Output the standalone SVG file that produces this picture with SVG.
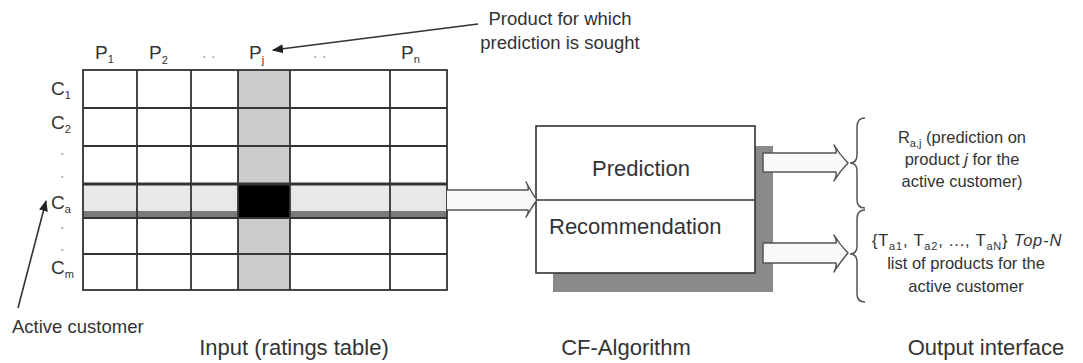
<svg xmlns="http://www.w3.org/2000/svg" width="1083" height="363" viewBox="0 0 1083 363">
  <defs>
    <style>
      text { font-family: "Liberation Sans", Arial, sans-serif; fill: #333; }
      .hdr { font-size: 19px; }
      .sub { font-size: 11px; }
      .dots { font-size: 16px; fill: #999; }
      .note { font-size: 18.5px; }
      .out { font-size: 16.5px; text-anchor: middle; }
      .box-label { font-size: 22px; }
      .caption { font-size: 22px; text-anchor: middle; }
      .grid { stroke: #333; stroke-width: 1.8; fill: none; }
      .block-arrow { stroke: #555; stroke-width: 1.5; fill: #fafafa; stroke-linejoin: round; }
      .brace { stroke: #555; stroke-width: 1.5; fill: none; }
      .pointer { stroke: #333; stroke-width: 1.6; fill: none; }
    </style>
    <marker id="tip" viewBox="0 0 10 10" refX="9" refY="5" markerWidth="7" markerHeight="7" orient="auto">
      <path d="M0,1 L10,5 L0,9 z" fill="#222"/>
    </marker>
  </defs>

  <rect width="1083" height="363" fill="#fff"/>

  <!-- ratings table -->
  <g id="ratings-table">
    <!-- highlighted product column and active-customer row -->
    <rect x="238" y="70" width="52" height="220" fill="#cbcbcb"/>
    <rect x="83" y="183" width="364" height="35" fill="#e8e8e8"/>
    <rect x="83" y="211" width="364" height="7" fill="#7a7a7a"/>
    <rect x="238" y="183" width="52" height="35" fill="#000"/>
    <!-- grid -->
    <rect class="grid" x="83" y="70" width="364" height="220"/>
    <path class="grid" d="M137,70 V290 M191,70 V290 M238,70 V290 M290,70 V290 M390,70 V290"/>
    <path class="grid" d="M83,108 H447 M83,146 H447 M83,254 H447"/>
    <path d="M83,184 H447" stroke="#333" stroke-width="3" fill="none"/>
    <path class="grid" d="M83,218 H447"/>

    <!-- column headers -->
    <text class="hdr" x="95" y="59">P<tspan class="sub" dy="4">1</tspan></text>
    <text class="hdr" x="149" y="59">P<tspan class="sub" dy="5">2</tspan></text>
    <text class="dots" x="202" y="58">. .</text>
    <text class="hdr" x="249" y="59">P<tspan class="sub" dy="5">j</tspan></text>
    <text class="dots" x="313" y="58">. .</text>
    <text class="hdr" x="401" y="59">P<tspan class="sub" dy="4">n</tspan></text>

    <!-- row headers -->
    <text class="hdr" x="51" y="95">C<tspan class="sub" dy="4">1</tspan></text>
    <text class="hdr" x="51" y="129">C<tspan class="sub" dy="4">2</tspan></text>
    <text class="dots" x="60" y="155">.</text>
    <text class="dots" x="60" y="178">.</text>
    <text class="hdr" x="51" y="209">C<tspan class="sub" dy="4">a</tspan></text>
    <text class="dots" x="60" y="229">.</text>
    <text class="dots" x="60" y="251">.</text>
    <text class="hdr" x="51" y="274">C<tspan class="sub" dy="4">m</tspan></text>

    <text class="caption" x="294" y="355">Input (ratings table)</text>
  </g>

  <!-- annotations -->
  <g id="active-customer-note">
    <text class="note" x="12" y="333">Active customer</text>
  </g>
  <g id="product-note">
    <text class="note" x="560" y="25" text-anchor="middle">Product for which</text>
    <text class="note" x="560" y="49" text-anchor="middle">prediction is sought</text>
  </g>

  <!-- CF algorithm block -->
  <g id="cf-algorithm">
    <rect x="553" y="146" width="220" height="146" fill="#8a8a8a"/>
    <rect x="536" y="126" width="219" height="147" fill="#fff" stroke="#333" stroke-width="1.6"/>
    <path d="M536,200 H755" stroke="#333" stroke-width="1.6"/>
    <text class="box-label" x="641" y="176" text-anchor="middle">Prediction</text>
    <text class="box-label" x="549" y="234">Recommendation</text>
    <text class="caption" x="626" y="355">CF-Algorithm</text>
  </g>

  <!-- output interface -->
  <g id="output-interface">
    <text class="out" x="962" y="143">R<tspan class="sub" dy="4">a,j</tspan><tspan dy="-4">  (prediction on</tspan></text>
    <text class="out" x="962" y="165">product <tspan font-style="italic">j</tspan> for the</text>
    <text class="out" x="962" y="187">active customer)</text>
    <text class="out" x="967" y="246" letter-spacing="0.8">{T<tspan class="sub" dy="4">a1</tspan><tspan dy="-4">, T</tspan><tspan class="sub" dy="4">a2</tspan><tspan dy="-4">, ..., T</tspan><tspan class="sub" dy="4">aN</tspan><tspan dy="-4">} </tspan><tspan font-style="italic">Top-N</tspan></text>
    <text class="out" x="966" y="269">list of products for the</text>
    <text class="out" x="966" y="292">active customer</text>
    <text class="caption" x="986" y="355">Output interface</text>
  </g>

  <!-- connectors -->
  <g id="connectors">
    <!-- table to algorithm -->
    <path class="block-arrow" d="M447,190 H528 C529,186 527,184 526,182 C530,189 533,195 537,200 C533,205 530,211 526,217 C527,215 529,213 528,210 H447"/>
    <!-- algorithm to outputs -->
    <path class="block-arrow" d="M763,153 H836 C837,150 835,147 834,145 C838,152 843,158 848,163 C843,168 838,174 834,181 C835,179 837,176 836,172 H763 Z"/>
    <path class="block-arrow" d="M763,243 H836 C837,240 835,237 834,235 C838,242 843,248 848,253 C843,259 838,265 834,272 C835,270 837,267 836,263 H763 Z"/>
    <!-- braces -->
    <path class="brace" d="M865,118 C859,118 857,121 857,127 V155 C857,160 855,163 850,163 C855,163 857,166 857,171 V200 C857,205 859,208 865,208"/>
    <path class="brace" d="M865,210 C859,210 857,213 857,219 V246 C857,251 855,254 850,254 C855,254 857,257 857,262 V294 C857,299 859,302 865,302"/>
    <!-- pointer lines -->
    <path class="pointer" d="M478,24 L273,50" marker-end="url(#tip)"/>
    <path class="pointer" d="M18,308 L46,201" marker-end="url(#tip)"/>
  </g>
</svg>
